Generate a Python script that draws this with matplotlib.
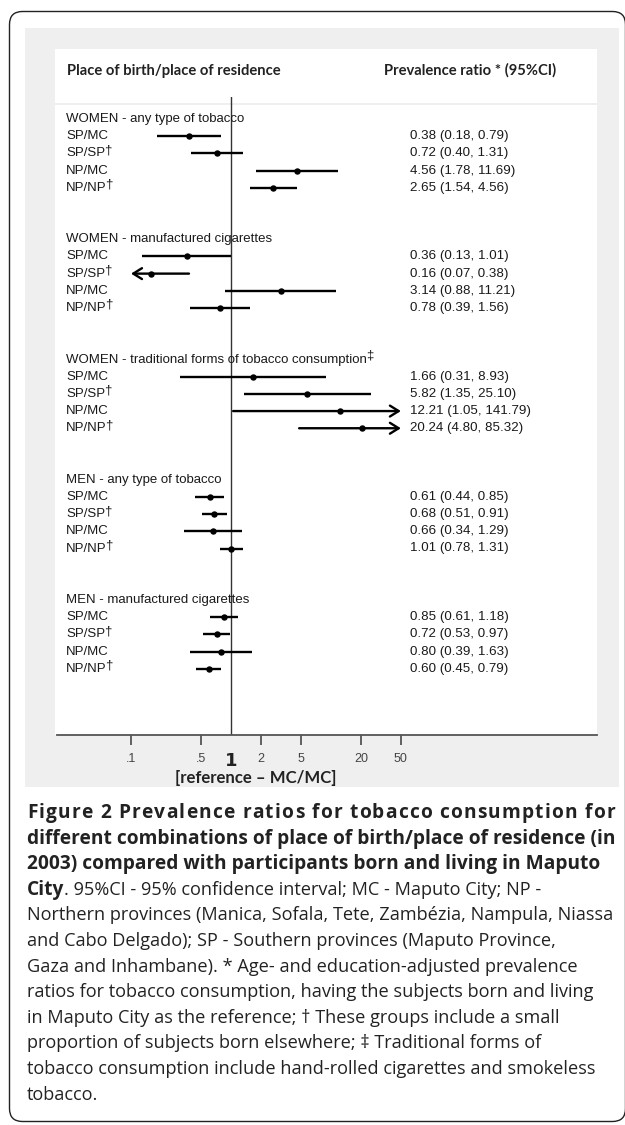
import matplotlib
matplotlib.use("Agg")
import matplotlib.pyplot as plt
from matplotlib.patches import Rectangle, FancyBboxPatch
from matplotlib.font_manager import FontProperties
from matplotlib import transforms

W, H = 625, 1125

# ---- data ----
groups = ["WOMEN - any type of tobacco",
          "WOMEN - manufactured cigarettes",
          "WOMEN - traditional forms of tobacco consumption",
          "MEN - any type of tobacco",
          "MEN - manufactured cigarettes"]
group_marks = ["", "", "\u2021", "", ""]
rows = ["SP/MC", "SP/SP", "NP/MC", "NP/NP"]
row_marks = ["", "\u2020", "", "\u2020"]

est = [[0.38, 0.72, 4.56, 2.65],
       [0.36, 0.16, 3.14, 0.78],
       [1.66, 5.82, 12.21, 20.24],
       [0.61, 0.68, 0.66, 1.01],
       [0.85, 0.72, 0.80, 0.60]]
lo = [[0.18, 0.40, 1.78, 1.54],
      [0.13, 0.07, 0.88, 0.39],
      [0.31, 1.35, 1.05, 4.80],
      [0.44, 0.51, 0.34, 0.78],
      [0.61, 0.53, 0.39, 0.45]]
hi = [[0.79, 1.31, 11.69, 4.56],
      [1.01, 0.38, 11.21, 1.56],
      [8.93, 25.10, 141.79, 85.32],
      [0.85, 0.91, 1.29, 1.31],
      [1.18, 0.97, 1.63, 0.79]]

xticks = [0.1, 0.5, 2, 5, 20, 50]
xtick_labels = [".1", ".5", "2", "5", "20", "50"]
x_clip = (0.1, 50)

caption = [
    "Figure 2 Prevalence ratios for tobacco consumption for",
    "different combinations of place of birth/place of residence (in",
    "2003) compared with participants born and living in Maputo",
    ". 95%CI - 95% confidence interval; MC - Maputo City; NP -",
    "Northern provinces (Manica, Sofala, Tete, Zambézia, Nampula, Niassa",
    "and Cabo Delgado); SP - Southern provinces (Maputo Province,",
    "Gaza and Inhambane). * Age- and education-adjusted prevalence",
    "ratios for tobacco consumption, having the subjects born and living",
    "in Maputo City as the reference; \u2020 These groups include a small",
    "proportion of subjects born elsewhere; \u2021 Traditional forms of",
    "tobacco consumption include hand-rolled cigarettes and smokeless",
    "tobacco.",
]

fig = plt.figure(figsize=(W / 100, H / 100), dpi=100)
fig.patch.set_facecolor("white")
renderer = fig.canvas.get_renderer()


def text_w(s, fp):
    w, h, d = renderer.get_text_width_height_descent(s, fp, ismath=False)
    return w


def fit(s, family, weight, target):
    fp = FontProperties(family=family, weight=weight, size=10)
    return 10 * target / text_w(s, fp)


# background canvas in pixel coordinates
bg = fig.add_axes([0, 0, 1, 1], zorder=-1)
bg.set_xlim(0, W)
bg.set_ylim(H, 0)
bg.axis("off")

bg.add_patch(FancyBboxPatch((9.5, 11.5), 616, 1110, boxstyle="round,pad=0,rounding_size=13",
                            fc="none", ec="#222222", lw=1.0))
bg.add_patch(Rectangle((25, 28), 594, 759, fc="#efefef", ec="none"))
bg.add_patch(Rectangle((55, 49), 542, 54, fc="white", ec="none"))
bg.add_patch(Rectangle((55, 105), 542, 630, fc="white", ec="none"))

# header row
hfam = "Lato"
hsize = fit("Place of birth/place of residence", hfam, "bold", 214)
bg.text(67, 71, "Place of birth/place of residence", family=hfam, weight="bold",
        size=hsize, color="#222222", va="center", ha="left")
bg.text(384, 70, "Prevalence ratio * (95%CI)", family=hfam, weight="bold",
        size=hsize, color="#222222", va="center", ha="left")

# forest plot axes
ax_l, ax_r, ax_t, ax_b = 57, 597, 97, 735
ax = fig.add_axes([ax_l / W, 1 - ax_b / H, (ax_r - ax_l) / W, (ax_b - ax_t) / H])
ax.patch.set_alpha(0)
ax.set_xscale("log")
ax.set_xlim(10 ** ((ax_l - 231) / 100), 10 ** ((ax_r - 231) / 100))
row0, step = 119, 17.18
ax.set_ylim((ax_b - row0) / step, (ax_t - row0) / step)
for side in ["top", "left", "right"]:
    ax.spines[side].set_visible(False)
ax.spines["bottom"].set_color("#555555")
ax.spines["bottom"].set_linewidth(1.3)
ax.set_yticks([])
ax.minorticks_off()
ax.set_xticks(xticks)
ax.set_xticklabels(xtick_labels, family="Liberation Sans", fontsize=9, color="#444444")
ax.tick_params(axis="x", which="both", length=7, width=1.3, color="#555555", pad=6)
ax.tick_params(axis="x", which="minor", length=0)
ax.axvline(1, color="#333333", lw=1.0, zorder=1)

trans = transforms.blended_transform_factory(ax.transAxes, ax.transData)
pfam = "Liberation Sans"
lsize = fit("WOMEN - any type of tobacco", pfam, "normal", 179)
vsize = fit("0.38 (0.18, 0.79)", pfam, "normal", 98)
lfp = FontProperties(family=pfam, size=lsize)
lab_x = (66 - ax_l) / (ax_r - ax_l)
val_x = (410 - ax_l) / (ax_r - ax_l)
tcol = "#1a1a1a"

for g in range(len(groups)):
    s0 = 7 * g
    ax.text(lab_x, s0, groups[g], transform=trans, family=pfam, size=lsize,
            color=tcol, va="center", ha="left")
    if group_marks[g]:
        ax.annotate(group_marks[g], xy=(lab_x, s0), xycoords=trans,
                    xytext=(text_w(groups[g], lfp) - 1, 4), textcoords="offset pixels",
                    family=pfam, size=lsize, color=tcol, va="center", ha="left")
    for k in range(4):
        s = s0 + 1 + k
        e, l, h = est[g][k], lo[g][k], hi[g][k]
        if l < x_clip[0]:
            ax.annotate("", xy=(x_clip[0], s), xytext=(h, s),
                        arrowprops=dict(arrowstyle="->,head_length=0.45,head_width=0.28",
                                        lw=1.7, color="k", shrinkA=0, shrinkB=0,
                                        mutation_scale=14))
        elif h > x_clip[1]:
            ax.annotate("", xy=(x_clip[1], s), xytext=(l, s),
                        arrowprops=dict(arrowstyle="->,head_length=0.45,head_width=0.28",
                                        lw=1.7, color="k", shrinkA=0, shrinkB=0,
                                        mutation_scale=14))
        else:
            ax.plot([l, h], [s, s], color="k", lw=1.7, solid_capstyle="butt")
        ax.plot(e, s, "o", ms=3.6, color="k")
        ax.text(lab_x, s, rows[k], transform=trans, family=pfam, size=lsize,
                color=tcol, va="center", ha="left")
        if row_marks[k]:
            ax.annotate(row_marks[k], xy=(lab_x, s), xycoords=trans,
                        xytext=(text_w(rows[k], lfp) - 1.5, 3), textcoords="offset pixels",
                        family=pfam, size=lsize, color=tcol, va="center", ha="left")
        ax.text(val_x, s, f"{e:.2f} ({l:.2f}, {h:.2f})", transform=trans, family=pfam,
                size=vsize, color=tcol, va="center", ha="left")

# reference label below the axis
ax.annotate("1", xy=(1, 0), xycoords=("data", "axes fraction"), xytext=(0, -26),
            textcoords="offset pixels", family="DejaVu Sans", weight="bold", size=13,
            color="#222222", ha="center", va="center")
rsize = fit("[reference \u2013 MC/MC]", hfam, "bold", 162)
bg.text(256, 778, "[reference \u2013 MC/MC]", family=hfam, weight="bold", size=rsize,
        color="#222222", ha="center", va="center")

# caption
cfam = "Open Sans"
csize = fit(caption[4], cfam, "normal", 585)
cbsize = fit(caption[1], cfam, "bold", 588)
cfp = FontProperties(family=cfam, size=csize)
cbfp = FontProperties(family=cfam, weight="bold", size=cbsize)
cx, cy0, cdy = 27, 813, 25.6
ccol = "#222222"

# first line: stretched to full width
line = caption[0]
base = text_w("II", cbfp)
widths = [text_w("I" + c + "I", cbfp) - base for c in line]
extra = (588 - sum(widths)) / (len(line) - 1)
x = cx
for c, w in zip(line, widths):
    if c != " ":
        bg.text(x, cy0, c, family=cfam, weight="bold", size=cbsize, color=ccol,
                ha="left", va="center")
    x += w + extra

for i in (1, 2):
    bg.text(cx, cy0 + cdy * i, caption[i], family=cfam, weight="bold", size=cbsize,
            color=ccol, ha="left", va="center")

bg.text(cx, cy0 + cdy * 3, "City", family=cfam, weight="bold", size=cbsize,
        color=ccol, ha="left", va="center")
bg.text(cx + text_w("City", cbfp), cy0 + cdy * 3, caption[3], family=cfam, size=csize,
        color=ccol, ha="left", va="center")

for i in range(4, len(caption)):
    bg.text(cx, cy0 + cdy * i, caption[i], family=cfam, size=csize, color=ccol,
            ha="left", va="center")

fig.savefig("out.png", dpi=100)
